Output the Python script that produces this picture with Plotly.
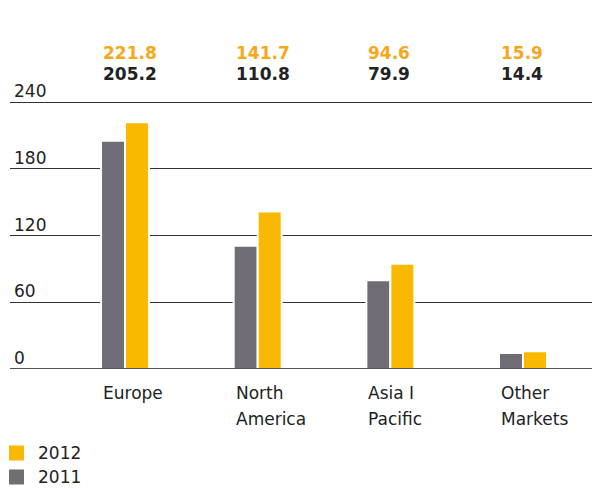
import plotly.graph_objects as go

categories = ["Europe", "North<br>America", "Asia I<br>Pacific", "Other<br>Markets"]
values_2011 = [205.2, 110.8, 79.9, 14.4]
values_2012 = [221.8, 141.7, 94.6, 15.9]
series_names = ["2011", "2012"]
y_ticks = [0, 60, 120, 180, 240]

GRAY = "#716d77"
YELLOW = "#f8b900"
ORANGE = "#f6a81c"
DARK = "#222222"
FONT = "DejaVu Sans"

W, H = 592, 489
ML, MR, MT, MB = 10, 0, 101, 120
PW, PH = W - ML - MR, H - MT - MB

def px_x(px):
    return (px - ML) / PW

def px_y(py):
    return (H - MB - py) / PH

xs = list(range(len(categories)))

fig = go.Figure()
fig.add_trace(go.Bar(x=xs, y=values_2011, name=series_names[0],
                     marker=dict(color=GRAY, line=dict(color="white", width=2)), showlegend=False))
fig.add_trace(go.Bar(x=xs, y=values_2012, name=series_names[1],
                     marker=dict(color=YELLOW, line=dict(color="white", width=2)), showlegend=False))

ann = []
for i, c in enumerate(categories):
    for j, line in enumerate(c.split("<br>")):
        ann.append(dict(x=xs[i], xref="x", y=0, yref="paper", yanchor="middle", xanchor="left",
                        xshift=-24, yshift=-(24 + 26 * j), text=line, showarrow=False, align="left",
                        font=dict(family=FONT, size=17, color=DARK)))
    ann.append(dict(x=xs[i], xref="x", y=1, yref="paper", yanchor="middle", xanchor="left",
                    xshift=-24, yshift=48, text="<b>%.1f</b>" % values_2012[i], showarrow=False,
                    font=dict(family=FONT, size=17, color=ORANGE)))
    ann.append(dict(x=xs[i], xref="x", y=1, yref="paper", yanchor="middle", xanchor="left",
                    xshift=-24, yshift=27, text="<b>%.1f</b>" % values_2011[i], showarrow=False,
                    font=dict(family=FONT, size=17, color=DARK)))
for t in y_ticks:
    ann.append(dict(x=0, xref="paper", y=t, yref="y", yanchor="bottom", xanchor="left",
                    xshift=2, yshift=-1, text=str(t), showarrow=False,
                    font=dict(family=FONT, size=17, color=DARK)))

shapes = [dict(type="line", xref="paper", x0=0, x1=1, yref="y", y0=0, y1=0,
               line=dict(color="#555555", width=2), layer="above")]

# legend (2012 on top, 2011 below)
legend_items = [(series_names[1], YELLOW, 453), (series_names[0], GRAY, 477)]
for name, col, cy in legend_items:
    shapes.append(dict(type="rect", xref="paper", yref="paper",
                       x0=px_x(9), x1=px_x(24), y0=px_y(cy + 7.5), y1=px_y(cy - 7.5),
                       fillcolor=col, line=dict(width=0)))
    ann.append(dict(x=px_x(36), xref="paper", y=px_y(cy), yref="paper", xanchor="left", yanchor="middle",
                    text=name, showarrow=False, font=dict(family=FONT, size=17, color=DARK)))

fig.update_layout(
    width=W, height=H,
    margin=dict(l=ML, r=MR, t=MT, b=MB),
    paper_bgcolor="white", plot_bgcolor="white",
    barmode="group", bargap=0.638, bargroupgap=0,
    font=dict(family=FONT, size=17, color=DARK),
    showlegend=False,
    xaxis=dict(range=[-0.867, 3.52], showticklabels=False, showgrid=False, zeroline=False, fixedrange=True),
    yaxis=dict(range=[0, 241], tickvals=y_ticks, showticklabels=False, showgrid=True,
               gridcolor="#333333", gridwidth=1, zeroline=False),
    annotations=ann,
    shapes=shapes,
)

fig.write_html("out.html")
